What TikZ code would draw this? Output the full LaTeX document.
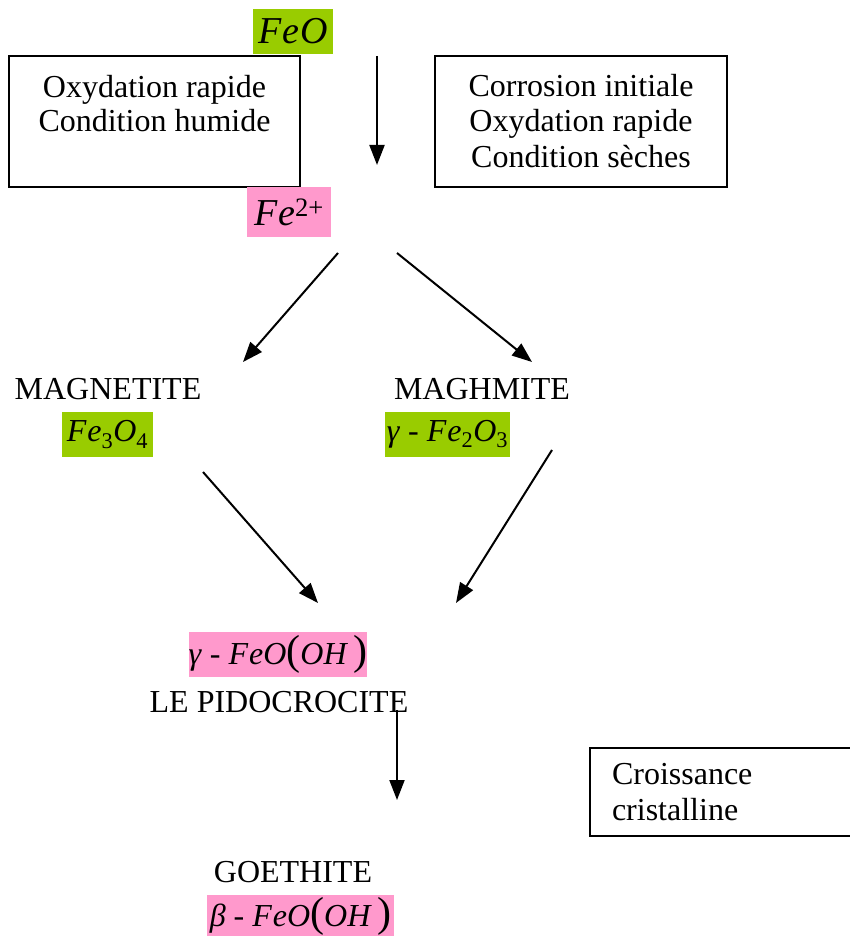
\documentclass[tikz,border=0pt]{standalone}
\usepackage{fontspec}
\setmainfont{Liberation Serif}
\usetikzlibrary{arrows.meta}
\definecolor{vertox}{HTML}{99CC00}
\definecolor{roseox}{HTML}{FF99CC}
\newcommand{\grpar}[1]{{\fontsize{42}{42}\selectfont #1}}
\newcommand{\ind}[1]{\textsubscript{#1}}

\begin{document}
\begin{tikzpicture}[x=1pt, y=-1pt,
		every node/.style={font=\fontsize{32}{36.5}\selectfont, inner sep=0pt},
		cadre/.style={draw, line width=1.9pt, align=center},
		formvert/.style={fill=vertox},
		formrose/.style={fill=roseox},
		nom/.style={anchor=base},
		fleche/.style={-{Triangle[length=20pt,width=15pt]}, line width=2pt}]
		\useasboundingbox (0,0) rectangle (850,936);

		% Draw the boxes with the conditions
		\node[cadre, minimum width=291, minimum height=131] (humide) at (154.5,121.5)
			{\raisebox{-2pt}{Oxydation rapide}\\Condition humide\\\mbox{}};
		\node[cadre, minimum width=292, minimum height=131] (seche) at (581,121.5)
			{\raisebox{-2pt}{Corrosion initiale}\\Oxydation rapide\\Condition sèches};
		\node[cadre, align=left, text width=246, minimum width=290, minimum height=88] (crois) at (735,792)
			{Croissance\\cristalline};

		% Draw the formulas
		\node[formvert, minimum width=80, minimum height=45] (feo) at (293,31.5)
			{\fontsize{38}{38}\selectfont\itshape F\kern1pt e\kern1pt O};
		\node[formrose, minimum width=84, minimum height=50] (fe2) at (289,212)
			{\fontsize{38}{38}\selectfont\itshape F\kern1pt e\textsuperscript{\upshape 2+}};
		\node[formvert, minimum width=91, minimum height=45] (fe3o4) at (107.5,434.5)
			{\itshape F\kern1pt e\ind{\upshape 3}O\ind{\upshape 4}};
		\node[formvert, minimum width=125, minimum height=45] (fe2o3) at (447.5,434.5)
			{\textit{γ} - \textit{F\kern1pt e}\ind{2}\textit{O}\ind{3}};
		\node[formrose, minimum width=176, minimum height=45] (gfeooh) at (278,654.5)
			{\textit{γ} - \textit{F\kern1pt eO}\grpar{(}\textit{OH}\,\grpar{)}};
		\node[formrose, minimum width=187, minimum height=42] (bfeooh) at (300.5,916)
			{\textit{β} - \textit{F\kern1pt eO}\grpar{(}\textit{OH}\,\grpar{)}};

		% Draw the names
		\node[nom] (magnetite) at (108,399) {MAGNETITE};
		\node[nom] (maghmite) at (482,399) {MAGHMITE};
		\node[nom] (pido) at (279,712) {LE PIDOCROCITE};
		\node[nom] (goethite) at (293,882) {GOETHITE};

		% Draw the arrows
		\coordinate (f1a) at (377,56);  \coordinate (f1b) at (377,165);
		\coordinate (f2a) at (338,253); \coordinate (f2b) at (243,362);
		\coordinate (f3a) at (397,253); \coordinate (f3b) at (532,362);
		\coordinate (f4a) at (203,472); \coordinate (f4b) at (318,603);
		\coordinate (f5a) at (552,450); \coordinate (f5b) at (456,603);
		\coordinate (f6a) at (397,710); \coordinate (f6b) at (397,800);
		\draw[fleche] (f1a) -- (f1b);
		\draw[fleche] (f2a) -- (f2b);
		\draw[fleche] (f3a) -- (f3b);
		\draw[fleche] (f4a) -- (f4b);
		\draw[fleche] (f5a) -- (f5b);
		\draw[fleche] (f6a) -- (f6b);
	\end{tikzpicture}
\end{document}
